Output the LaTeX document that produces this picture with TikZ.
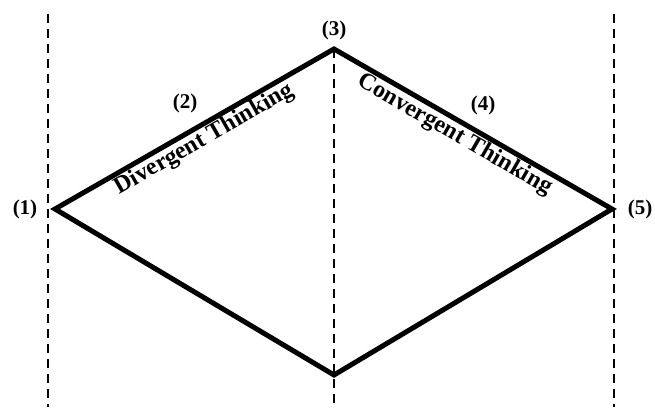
\documentclass[tikz,border=0pt]{standalone}
\usepackage{fontspec}
\setmainfont{Liberation Serif}
\begin{document}
\begin{tikzpicture}[x=1pt,y=1pt,
  guide/.style={line width=2.5pt, dash pattern=on 9pt off 6pt},
  edge/.style={line width=5pt, line join=miter},
  lbl/.style={font=\fontsize{21}{25}\selectfont\bfseries, inner sep=1pt},
  phase/.style={font=\fontsize{24}{28}\selectfont\bfseries, inner sep=3pt}]
\useasboundingbox (0,0) rectangle (655,407);
\coordinate (L) at (55,198);
\coordinate (T) at (334,358);
\coordinate (R) at (612,198);
\coordinate (B) at (334,32);
\coordinate (g1t) at (48,393); \coordinate (g1b) at (48,0);
\coordinate (g2t) at (334,358); \coordinate (g2b) at (334,0);
\coordinate (g3t) at (614,393); \coordinate (g3b) at (614,0);
\draw[guide] (g1t) -- (g1b);
\draw[guide] (g2t) -- (g2b);
\draw[guide] (g3t) -- (g3b);
\draw[edge] (L) -- (T) -- (R) -- (B) -- cycle;
\node[lbl] (n1) at (25,198) {(1)};
\node[lbl] (n2) at (185,304) {(2)};
\node[lbl] (n3) at (334,377) {(3)};
\node[lbl] (n4) at (483,302) {(4)};
\node[lbl] (n5) at (640,198) {(5)};
\path (L) -- (T) node[phase, pos=0.51, sloped, below] (dt) {Divergent Thinking};
\path (T) -- (R) node[phase, pos=0.46, sloped, below] (ct) {Convergent Thinking};
\end{tikzpicture}
\end{document}
